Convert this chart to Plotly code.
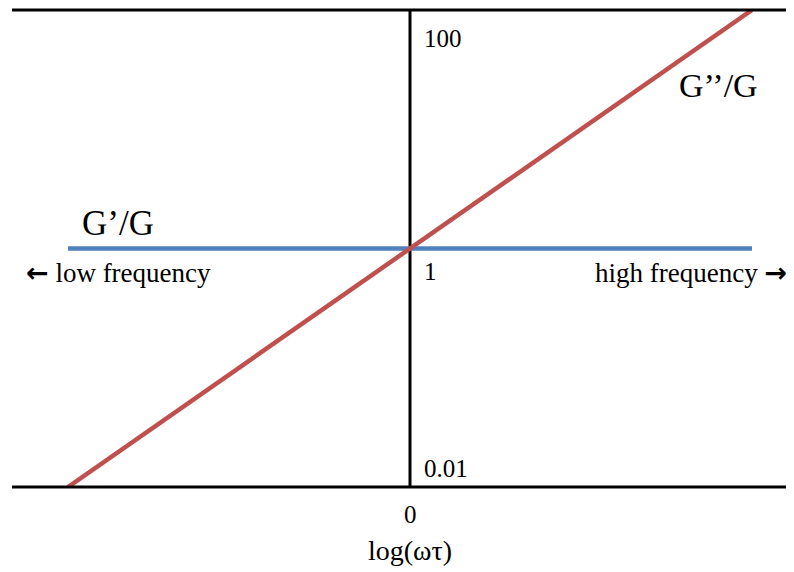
import plotly.graph_objects as go

# data (log10(omega*tau) on x, ratio on log y)
x_vals = [-2, 2]
g_storage = [1, 1]          # G'/G
g_loss = [0.01, 100]        # G''/G
y_labels = ["100", "1", "0.01"]
x_tick_vals = [0]
x_tick_text = ["0"]

RED = "#C0504D"
BLUE = "#4F81BD"
FONT = "Liberation Serif"

# page geometry (figure is offset 8px by the page body margin)
X0_PX, PX_PER_DEC_X = 410, 171.0
Y0_PX, PX_PER_DEC_Y = 248.5, 119.25
PLOT_TOP, PLOT_BOT = 10, 487


def px2x(p):
    return (p - X0_PX) / PX_PER_DEC_X


def px2y(q):
    return (Y0_PX - q) / PX_PER_DEC_Y


def px2paper_y(q):
    return (PLOT_BOT - q) / (PLOT_BOT - PLOT_TOP)


fig = go.Figure()
fig.add_trace(go.Scatter(x=x_vals, y=g_storage, mode="lines",
                         line=dict(color=BLUE, width=4.5), showlegend=False, hoverinfo="skip"))
fig.add_trace(go.Scatter(x=x_vals, y=g_loss, mode="lines",
                         line=dict(color=RED, width=4.5), showlegend=False, hoverinfo="skip"))

# vertical axis at x=0
fig.add_shape(type="line", x0=0, x1=0, y0=0, y1=1, xref="x", yref="paper",
              line=dict(color="black", width=3), layer="below")
# horizontal top/bottom lines spanning full plot width
for yy in (0, 1):
    fig.add_shape(type="line", x0=0, x1=1, y0=yy, y1=yy, xref="paper", yref="paper",
                  line=dict(color="black", width=3))

ARW = "<span style='font-family:DejaVu Sans;font-weight:bold'>{}</span>"

ann = []
for txt, q in zip(y_labels, [38, 271, 468]):
    ann.append(dict(x=px2x(422), y=px2y(q), xref="x", yref="y", text=txt, showarrow=False,
                    xanchor="left", yanchor="middle", font=dict(family=FONT, size=25, color="black")))
ann.append(dict(x=px2x(80), y=px2y(223), xref="x", yref="y", text="G’/G", showarrow=False,
                xanchor="left", yanchor="middle", font=dict(family=FONT, size=35, color="black")))
ann.append(dict(x=px2x(677), y=px2y(85), xref="x", yref="y", text="G’’/G", showarrow=False,
                xanchor="left", yanchor="middle", font=dict(family=FONT, size=34, color="black")))
ann.append(dict(x=px2x(24), y=px2y(272), xref="x", yref="y",
                text=ARW.format("←") + " low frequency", showarrow=False,
                xanchor="left", yanchor="middle", font=dict(family=FONT, size=27, color="black")))
ann.append(dict(x=px2x(789), y=px2y(272), xref="x", yref="y",
                text="high frequency " + ARW.format("→"), showarrow=False,
                xanchor="right", yanchor="middle", font=dict(family=FONT, size=27, color="black")))
# x tick label and axis title
for v, t in zip(x_tick_vals, x_tick_text):
    ann.append(dict(x=v, y=px2paper_y(514), xref="x", yref="paper", text=t, showarrow=False,
                    xanchor="center", yanchor="middle", font=dict(family=FONT, size=25, color="black")))
ann.append(dict(x=0, y=px2paper_y(550), xref="x", yref="paper", text="log(ωτ)", showarrow=False,
                xanchor="center", yanchor="middle", font=dict(family=FONT, size=28, color="black")))

fig.update_layout(
    width=786, height=564,
    margin=dict(l=4, r=0, t=2, b=85),
    paper_bgcolor="white", plot_bgcolor="white",
    annotations=ann,
    xaxis=dict(range=[px2x(12), px2x(794)], showgrid=False, zeroline=False, showline=False,
               showticklabels=False, ticks=""),
    yaxis=dict(type="log", range=[-2, 2], showgrid=False, zeroline=False,
               showline=False, showticklabels=False, ticks=""),
)

fig.write_html("out.html")
